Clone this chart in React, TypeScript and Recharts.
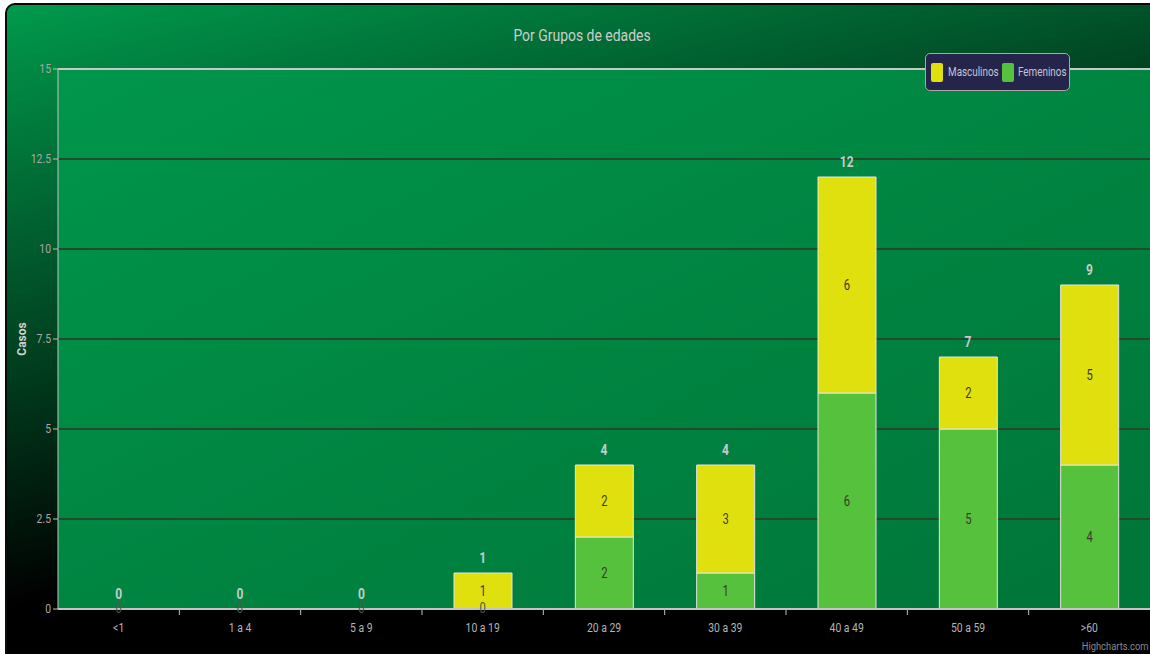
import React from "react";
import { ComposedChart, Bar, Line, XAxis, YAxis, CartesianGrid, LabelList, ReferenceLine } from "recharts";

const categories = ["<1", "1 a 4", "5 a 9", "10 a 19", "20 a 29", "30 a 39", "40 a 49", "50 a 59", ">60"];
const femeninos = [0, 0, 0, 0, 2, 1, 6, 5, 4];
const masculinos = [0, 0, 0, 1, 2, 3, 6, 2, 5];
const yTicks = [0, 2.5, 5, 7.5, 10, 12.5, 15];

const FONT = 'Roboto, "Liberation Sans", sans-serif';
const YELLOW = "#e0e00f";
const GREEN = "#56c13c";
const SQUEEZE = 0.8;

const data = categories.map((name, i) => ({
  name,
  femeninos: femeninos[i],
  masculinos: masculinos[i],
  total: femeninos[i] + masculinos[i],
}));

const BAND = 1092 / categories.length;

// condensed-looking text: draw at origin and squeeze horizontally
function Narrow({ x, y, children, fill, size, weight }: any) {
  return (
    <text
      transform={`translate(${x},${y}) scale(${SQUEEZE},1)`}
      textAnchor="middle"
      fill={fill}
      fontSize={size}
      fontWeight={weight}
      fontFamily={FONT}
    >
      {children}
    </text>
  );
}

function XTick(props: any) {
  const { x, y, payload, index } = props;
  return (
    <g>
      <Narrow x={x} y={y + 15} fill="#b4b4b4" size={13}>
        {payload.value}
      </Narrow>
      {index < categories.length - 1 && (
        <line x1={x + BAND / 2} x2={x + BAND / 2} y1={y - 8} y2={y - 2} stroke="#c0c0c0" strokeWidth={1} />
      )}
    </g>
  );
}

function YTick(props: any) {
  const { x, y, payload } = props;
  return (
    <text transform={`translate(${x},${y + 4}) scale(${SQUEEZE},1)`} textAnchor="end" fill="#a8a8a8" fontSize={13} fontFamily={FONT}>
      {payload.value}
    </text>
  );
}

function innerLabel(props: any) {
  const { x, y, width, height, value } = props;
  if (!value) return null;
  return (
    <Narrow x={x + width / 2} y={y + height / 2 + 5} fill="#3a3a2a" size={14}>
      {value}
    </Narrow>
  );
}

function totalLabel(props: any) {
  const { x, y, value } = props;
  return (
    <Narrow x={x} y={y - 10} fill="#c4cccc" size={15} weight="bold">
      {value}
    </Narrow>
  );
}

// zero-height segments still get their "0" at the baseline
function zeroLabel(props: any) {
  const { x, y, value } = props;
  if (value !== 0) return null;
  return (
    <Narrow x={x} y={y + 4} fill="#4a5a4a" size={14}>
      0
    </Narrow>
  );
}

export default function App() {
  return (
    <div style={{ position: "absolute", left: 0, top: 0, width: 1150, height: 654, overflow: "hidden", background: "#fff" }}>
      <div
        style={{
          position: "absolute",
          left: 5,
          top: 3,
          width: 1160,
          height: 670,
          borderRadius: 10,
          border: "2px solid #0a0a0a",
          background: "linear-gradient(166deg, #009a4c 0%, #004d26 32%, #000 63%)",
        }}
      />
      <div style={{ position: "absolute", left: 0, top: 0 }}>
        <ComposedChart width={1150} height={654} data={data} margin={{ top: 69, right: 0, left: 0, bottom: 0 }} barSize={58}>
          <defs>
            <linearGradient id="plotBg" x1="0" y1="0" x2="1" y2="1">
              <stop offset="0%" stopColor="#00964b" />
              <stop offset="100%" stopColor="#007538" />
            </linearGradient>
          </defs>
          <CartesianGrid vertical={false} fill="url(#plotBg)" stroke="#234a2d" strokeWidth={2} />
          <XAxis
            dataKey="name"
            height={45}
            tickLine={false}
            tickSize={6}
            tickMargin={2}
            axisLine={{ stroke: "#c4c4c4", strokeWidth: 2 }}
            tick={<XTick />}
            interval={0}
          />
          <YAxis
            width={58}
            domain={[0, 15]}
            ticks={yTicks}
            tickSize={5}
            tickMargin={2}
            tickLine={{ stroke: "#c0c0c0" }}
            axisLine={{ stroke: "#c4c4c4", strokeWidth: 1 }}
            tick={<YTick />}
            label={{ value: "Casos", angle: -90, position: "center", dx: -7, fill: "#d0d0d0", fontSize: 12, fontWeight: "bold", fontFamily: FONT }}
          />
          <ReferenceLine y={15} stroke="#c8c8c8" strokeWidth={2} />
          <Bar dataKey="femeninos" stackId="a" fill={GREEN} stroke="#e4e4e4" strokeWidth={1} isAnimationActive={false}>
            <LabelList dataKey="femeninos" content={innerLabel} />
          </Bar>
          <Bar dataKey="masculinos" stackId="a" fill={YELLOW} stroke="#e4e4e4" strokeWidth={1} isAnimationActive={false}>
            <LabelList dataKey="masculinos" content={innerLabel} />
          </Bar>
          <Line dataKey="femeninos" stroke="none" dot={false} activeDot={false} isAnimationActive={false}>
            <LabelList dataKey="femeninos" content={zeroLabel} />
          </Line>
          <Line dataKey="total" stroke="none" dot={false} activeDot={false} isAnimationActive={false}>
            <LabelList dataKey="total" content={totalLabel} />
          </Line>
        </ComposedChart>
      </div>
      <div
        style={{
          position: "absolute",
          left: 0,
          width: 1164,
          top: 25,
          textAlign: "center",
          color: "#cdcdcd",
          fontFamily: FONT,
          fontSize: 17,
          transform: "scaleX(0.82)",
        }}
      >
        Por Grupos de edades
      </div>
      <div
        style={{
          position: "absolute",
          left: 925,
          top: 53,
          width: 145,
          height: 38,
          boxSizing: "border-box",
          background: "#25244a",
          border: "1px solid #a8a8a8",
          borderRadius: 5,
          fontFamily: FONT,
          fontSize: 13,
          color: "#c4c4d4",
        }}
      >
        <span style={{ position: "absolute", left: 5, top: 9, width: 12, height: 19, background: YELLOW, borderRadius: 2 }} />
        <span style={{ position: "absolute", left: 22, top: 10, transform: `scaleX(${0.76})`, transformOrigin: "left", whiteSpace: "nowrap" }}>
          Masculinos
        </span>
        <span style={{ position: "absolute", left: 76, top: 9, width: 12, height: 19, background: GREEN, borderRadius: 2 }} />
        <span style={{ position: "absolute", left: 92, top: 10, transform: `scaleX(${0.76})`, transformOrigin: "left", whiteSpace: "nowrap" }}>
          Femeninos
        </span>
      </div>
      <div
        style={{
          position: "absolute",
          right: 2,
          top: 640,
          fontFamily: FONT,
          fontSize: 11,
          color: "#8a8a8a",
          transform: "scaleX(0.85)",
          transformOrigin: "right",
        }}
      >
        Highcharts.com
      </div>
    </div>
  );
}
